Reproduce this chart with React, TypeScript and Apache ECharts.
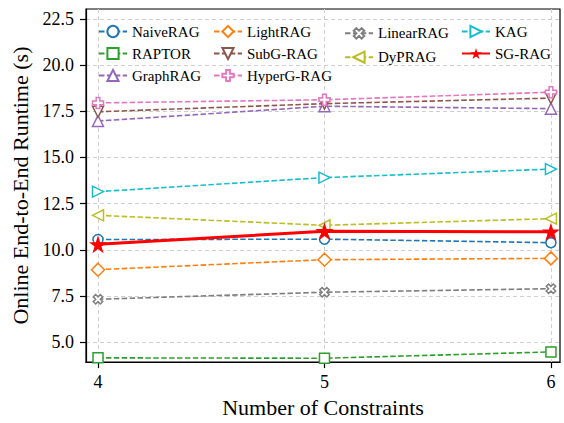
import React, { useEffect, useRef } from "react";
import * as echarts from "echarts";

const constraints = [4, 5, 6];
const yTicks = [5, 7.5, 10, 12.5, 15, 17.5, 20, 22.5];

const naiveRAG = [10.56, 10.58, 10.39];
const raptor = [4.16, 4.14, 4.48];
const graphRAG = [16.97, 17.77, 17.64];
const lightRAG = [8.93, 9.47, 9.54];
const subgRAG = [17.47, 17.91, 18.21];
const hypergRAG = [17.95, 18.12, 18.53];
const linearRAG = [7.33, 7.71, 7.9];
const dyPRAG = [11.87, 11.33, 11.69];
const kag = [13.15, 13.91, 14.37];
const sgRAG = [10.3, 11.01, 10.98];

const PLUS = "path://M1,0H2V1H3V2H2V3H1V2H0V1H1Z";

type S = {
  name: string;
  data: number[];
  color: string;
  symbol: string;
  rotate?: number;
  size?: number;
};

const seriesDefs: S[] = [
  { name: "NaiveRAG", data: naiveRAG, color: "#1f77b4", symbol: "circle", size: 10 },
  { name: "RAPTOR", data: raptor, color: "#2ca02c", symbol: "rect", size: 10 },
  { name: "GraphRAG", data: graphRAG, color: "#9467bd", symbol: "triangle", size: 11 },
  { name: "LightRAG", data: lightRAG, color: "#ff7f0e", symbol: "diamond", size: 13 },
  { name: "SubG-RAG", data: subgRAG, color: "#8c564b", symbol: "triangle", rotate: 180, size: 11 },
  { name: "HyperG-RAG", data: hypergRAG, color: "#e377c2", symbol: PLUS, size: 11 },
  { name: "LinearRAG", data: linearRAG, color: "#7f7f7f", symbol: PLUS, rotate: 45, size: 10 },
  { name: "DyPRAG", data: dyPRAG, color: "#bcbd22", symbol: "triangle", rotate: 90, size: 11 },
  { name: "KAG", data: kag, color: "#17becf", symbol: "triangle", rotate: -90, size: 11 },
];

const FONT = "'Liberation Serif', 'Times New Roman', serif";

export default function App() {
  const ref = useRef<HTMLDivElement>(null);
  useEffect(() => {
    if (!ref.current) return;
    const chart = echarts.init(ref.current, undefined, { renderer: "svg" });
    const series: any[] = seriesDefs.map((s) => ({
      name: s.name,
      type: "line",
      data: constraints.map((c, i) => [c, s.data[i]]),
      symbol: s.symbol,
      symbolSize: s.size ?? 10,
      symbolRotate: s.rotate ?? 0,
      showAllSymbol: true,
      lineStyle: { color: s.color, width: 1.6, type: [5.5, 2.4] },
      itemStyle: { color: "#ffffff", borderColor: s.color, borderWidth: 1.5 },
      z: 2,
    }));
    series.push({
      name: "SG-RAG",
      type: "line",
      data: constraints.map((c, i) => [c, sgRAG[i]]),
      symbol: "path://M50,0L61.8,35.4L100,35.4L69.1,57.3L80.9,93.3L50,71.3L19.1,93.3L30.9,57.3L0,35.4L38.2,35.4Z",
      symbolSize: 18,
      lineStyle: { color: "#ff0000", width: 3, type: "solid" },
      itemStyle: { color: "#ff0000", borderColor: "#ff0000", borderWidth: 0 },
      z: 5,
    });

    const cols = [
      ["NaiveRAG", "RAPTOR", "GraphRAG"],
      ["LightRAG", "SubG-RAG", "HyperG-RAG"],
      ["LinearRAG", "DyPRAG"],
      ["KAG", "SG-RAG"],
    ];
    const colX = [98, 213, 344, 461];
    const legends = cols.map((names, i) => ({
      data: names,
      orient: "vertical",
      left: colX[i],
      top: 24,
      padding: 0,
      itemWidth: 28,
      itemHeight: 14,
      itemGap: 7,
      textStyle: { fontFamily: FONT, fontSize: 15, color: "#000" },
    }));

    chart.setOption({
      animation: false,
      backgroundColor: "#ffffff",
      grid: {
        left: 86,
        right: 4,
        top: 9,
        bottom: 56,
        show: true,
        borderColor: "#000",
        borderWidth: 1.2,
        backgroundColor: "transparent",
      },
      legend: legends,
      xAxis: {
        type: "value",
        min: 3.947,
        max: 6.04,
        name: "Number of Constraints",
        nameLocation: "middle",
        nameGap: 26,
        nameTextStyle: { fontFamily: FONT, fontSize: 22, color: "#000" },
        axisLine: { show: true, lineStyle: { color: "#000", width: 1.2 } },
        axisTick: {
          show: true,
          inside: false,
          length: 6,
          lineStyle: { color: "#000", width: 1.2 },
          customValues: constraints,
        },
        axisLabel: {
          fontFamily: FONT,
          fontSize: 18,
          color: "#000",
          margin: 11,
          customValues: constraints,
          formatter: (v: number) => String(v),
        },
        splitLine: {
          show: true,
          lineStyle: { color: "#d0d0d0", width: 1, type: [4, 3] },
        },
      },
      yAxis: {
        type: "value",
        min: 3.93,
        max: 23.03,
        name: "Online End-to-End Runtime (s)",
        nameLocation: "middle",
        nameGap: 53,
        nameTextStyle: { fontFamily: FONT, fontSize: 22, color: "#000" },
        axisLine: { show: true, lineStyle: { color: "#000", width: 1.2 } },
        axisTick: {
          show: true,
          inside: false,
          length: 6,
          lineStyle: { color: "#000", width: 1.2 },
          customValues: yTicks,
        },
        axisLabel: {
          fontFamily: FONT,
          fontSize: 18,
          color: "#000",
          margin: 12,
          customValues: yTicks,
          formatter: (v: number) => v.toFixed(1),
        },
        splitLine: {
          show: true,
          lineStyle: { color: "#d0d0d0", width: 1, type: [4, 3] },
        },
      },
      series,
    });
    return () => chart.dispose();
  }, []);
  return (
    <div
      ref={ref}
      style={{ position: "absolute", left: 0, top: 0, width: 564, height: 423 }}
    />
  );
}
